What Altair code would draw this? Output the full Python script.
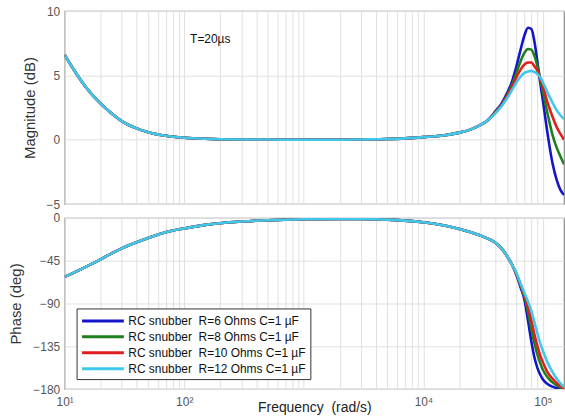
import altair as alt
import pandas as pd

# ---- data ----
freq_low = [10, 12, 15, 20, 25, 30, 40, 50, 70, 100, 150, 200, 300, 500, 700,
            1000, 2000, 3000, 5000, 7000, 10000, 15000, 20000, 25000, 30000, 35000]
mag_low = [6.6, 5.4, 4.1, 2.8, 2.0, 1.45, 0.88, 0.58, 0.3, 0.15, 0.07, 0.04, 0.02,
           0.01, 0.0, 0.0, 0.0, 0.02, 0.05, 0.1, 0.2, 0.35, 0.55, 0.8, 1.15, 1.55]
phase_low = [-62, -57.5, -51.5, -43.5, -37, -32, -25.5, -21, -15, -11, -7.3, -5.5,
             -3.8, -2.4, -1.9, -1.4, -1.0, -1.1, -1.8, -2.8, -4.6, -8, -11.5, -15,
             -18.5, -22]

freq_high = [40000, 45000, 50000, 55000, 60000, 65000, 70000, 75000, 80000, 85000,
             90000, 95000, 100000, 110000, 120000, 130000, 140000, 150000]
mag_r6 = [2.2, 2.8, 3.6, 4.5, 5.7, 7.0, 8.1, 8.7, 8.6, 7.6, 6.0, 4.4, 3.0, 0.3,
          -1.8, -3.1, -3.9, -4.3]
mag_r8 = [2.15, 2.7, 3.45, 4.25, 5.2, 6.1, 6.75, 7.05, 7.0, 6.5, 5.7, 4.7, 3.7, 1.9,
          0.4, -0.6, -1.3, -1.9]
mag_r10 = [2.1, 2.65, 3.35, 4.05, 4.85, 5.45, 5.85, 6.0, 6.0, 5.7, 5.35, 4.8, 4.15,
           2.8, 1.8, 1.0, 0.45, 0.0]
mag_r12 = [2.05, 2.6, 3.2, 3.85, 4.45, 4.9, 5.2, 5.3, 5.35, 5.25, 5.1, 4.85, 4.45,
           3.6, 2.9, 2.3, 1.9, 1.6]

ph_r6 = [-26, -32, -40, -49, -60, -73, -86, -108, -130, -147, -158, -165, -170,
         -175, -177.5, -179, -179.7, -180]
ph_r8 = [-26, -32, -40, -49, -59, -71, -83, -99, -117, -132, -144, -153, -160,
         -168, -173, -176, -178.5, -180]
ph_r10 = [-26, -32, -40, -49, -59, -70, -81, -94, -108, -123, -135, -145, -152,
          -163, -169, -173.5, -177, -179.5]
ph_r12 = [-26, -32, -40, -49, -58, -69, -79, -88, -98, -110, -122, -132, -140,
          -153, -162, -169, -174, -178]

series_names = [
    "RC snubber\u00a0 R=6 Ohms C=1 µF",
    "RC snubber\u00a0 R=8 Ohms C=1 µF",
    "RC snubber\u00a0 R=10 Ohms C=1 µF",
    "RC snubber\u00a0 R=12 Ohms C=1 µF",
]
series_colors = ["#1414c8", "#1d801d", "#e01e1e", "#3ec8ec"]
mag_high = [mag_r6, mag_r8, mag_r10, mag_r12]
phase_high = [ph_r6, ph_r8, ph_r10, ph_r12]

note_text = ["T=20µs"]
note_freq = [112]
note_mag = [7.85]

mag_ticks = [-5, 0, 5, 10]
phase_ticks = [-180, -135, -90, -45, 0]
decade_labels = {10: "10¹", 100: "10²", 10000: "10⁴", 100000: "10⁵"}

# ---- build table ----
rows = []
for name, mags, phs in zip(series_names, mag_high, phase_high):
    for f, m, p in zip(freq_low + freq_high, mag_low + mags, phase_low + phs):
        rows.append({"freq": f, "mag": m, "phase": p, "series": name})
df = pd.DataFrame(rows)
note_df = pd.DataFrame({"freq": note_freq, "mag": note_mag, "text": note_text})

grid_vals = [k * 10 ** d for d in range(1, 6) for k in range(1, 10) if k * 10 ** d <= 150000]
label_expr = " : ".join(
    [f"datum.value == {v} ? '{t}'" for v, t in decade_labels.items()]) + " : ''"

FONT = "Liberation Sans"
xscale = alt.Scale(type="log", domain=[10, 150000], nice=False)
color = alt.Color(
    "series:N",
    scale=alt.Scale(domain=series_names, range=series_colors),
    legend=alt.Legend(
        title=None, orient="none", legendX=12, legendY=299,
        symbolType="M-1,0L5,0", symbolSize=196, symbolStrokeWidth=3,
        labelFontSize=12, labelFont=FONT, labelColor="#111", labelLimit=400,
        strokeColor="#333", fillColor="white", padding=4, rowPadding=1,
        labelOffset=31,
    ),
)

gridcol = "#e0e0e0"
common_y_axis = dict(grid=True, gridColor=gridcol, domain=False, ticks=False,
                     labelFont=FONT, labelFontSize=12, labelColor="#555",
                     labelPadding=5, titleFont=FONT, titleFontSize=15,
                     titleFontWeight="normal", titleColor="#333", titlePadding=9)


def lines(field):
    return [
        alt.Chart(df).transform_filter(alt.datum.series == n)
        .mark_line(strokeWidth=2.6, interpolate="monotone", clip=True)
        .encode(
            x=alt.X("freq:Q", scale=xscale),
            y=alt.Y(f"{field}:Q"),
            color=color,
        )
        for n in series_names
    ]


top_base = alt.Chart(df).encode(
    x=alt.X("freq:Q", scale=xscale,
            axis=alt.Axis(values=grid_vals, labels=False, ticks=False, domain=False,
                          title=None, grid=True, gridColor=gridcol)),
    y=alt.Y("mag:Q", scale=alt.Scale(domain=[-5, 10], nice=False, zero=False),
            axis=alt.Axis(values=mag_ticks, title="Magnitude (dB)", **common_y_axis)),
)
note = alt.Chart(note_df).mark_text(align="left", baseline="middle", fontSize=12,
                                    font=FONT, color="#111").encode(
    x=alt.X("freq:Q", scale=xscale), y="mag:Q", text="text:N")
top = alt.layer(top_base.mark_line(opacity=0), *lines("mag"), note).properties(
    width=502, height=194)

bottom_base = alt.Chart(df).encode(
    x=alt.X("freq:Q", scale=xscale,
            axis=alt.Axis(values=grid_vals, labelExpr=label_expr, ticks=False,
                          domain=False, title="Frequency\u00a0 (rad/s)", grid=True,
                          gridColor=gridcol, labelFont=FONT, labelFontSize=12,
                          labelColor="#555", labelPadding=8, labelFlush=False,
                          labelOverlap=False, titleFont=FONT, titleFontSize=14,
                          titleFontWeight="normal", titleColor="#222", titleY=12)),
    y=alt.Y("phase:Q", scale=alt.Scale(domain=[-180, 0], nice=False, zero=False),
            axis=alt.Axis(values=phase_ticks, title="Phase (deg)", **common_y_axis)),
)
bottom = alt.layer(bottom_base.mark_line(opacity=0), *lines("phase")).properties(
    width=502, height=172)

chart = alt.vconcat(top, bottom, spacing=0).properties(
    padding={"left": 8, "top": 3, "right": 0, "bottom": 0}
).configure(font=FONT).configure_view(stroke="#8a8a8a", strokeWidth=1.2)

chart.save("out.html", embed_options={"renderer": "svg", "actions": False})
